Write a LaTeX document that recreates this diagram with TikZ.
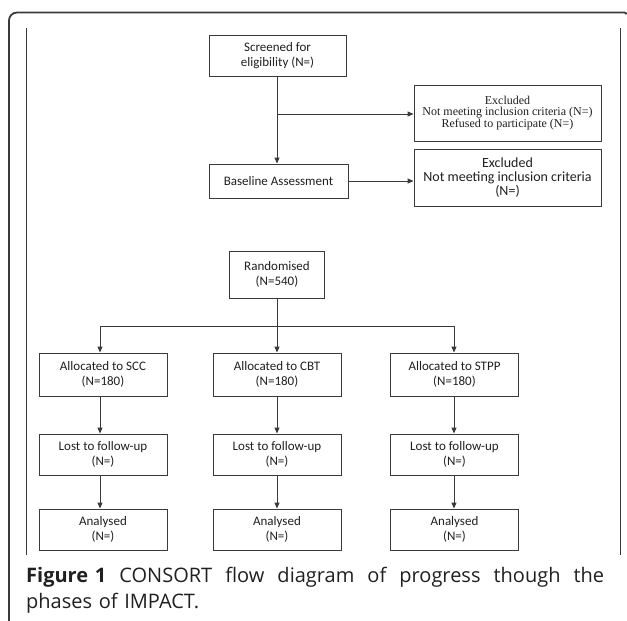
\documentclass[tikz,border=0pt]{standalone}
\usepackage{fontspec}
\setmainfont{Carlito}
\newfontfamily\timesfont{Liberation Serif}
\newfontfamily\capfont{Open Sans}
\usetikzlibrary{arrows.meta,calc}
\definecolor{linecol}{HTML}{3A3A3A}
\definecolor{txtcol}{HTML}{202020}
\newcommand{\capsp}{\hspace{0pt plus 1fil}\ }
\begin{document}
\begin{tikzpicture}[x=1pt,y=-1pt,
  flowbox/.style={draw=linecol,line width=0.9pt,fill=white,inner sep=0pt,align=center,
    font=\fontsize{13}{15}\selectfont,text=txtcol},
  serifbox/.style={flowbox,font=\timesfont\fontsize{12}{11.8}\selectfont},
  flowarrow/.style={draw=linecol,line width=0.9pt,-{Triangle[length=6pt,width=5pt]}},
  flowline/.style={draw=linecol,line width=0.9pt}]
\useasboundingbox (0,0) rectangle (627,621);
% outer frame
\draw[draw=linecol,line width=1.8pt,rounded corners=8pt] (9,621) -- (9,12.5) -- (625,12.5);
\draw[draw=linecol,line width=1.8pt] (625,12.5) -- (626.5,14);
% inner vertical rules
\draw[draw=linecol,line width=0.9pt] (26,28) coordinate (lt) -- (26,555) coordinate (lb);
\draw[draw=linecol,line width=0.9pt] (620,28) coordinate (rt) -- (620,555) coordinate (rb);
% nodes
\node[flowbox,minimum width=137pt,minimum height=41pt] (scr) at (277.5,55.5) {Screened for\\eligibility (N=)};
\node[serifbox,minimum width=187pt,minimum height=56pt] (ex1) at (507.5,113) {Excluded\\Not meeting inclusion criteria (N=)\\Refused to participate (N=)};
\node[flowbox,minimum width=139pt,minimum height=34pt] (base) at (278.5,181) {Baseline Assessment};
\node[flowbox,minimum width=187pt,minimum height=57pt,font=\fontsize{14}{14}\selectfont] (ex2) at (507.5,177.5) {Excluded\\Not meeting inclusion criteria\\(N=)};
\node[flowbox,minimum width=95pt,minimum height=47pt] (rand) at (277,274.5) {Randomised\\(N=540)};
\node[flowbox,minimum width=128pt,minimum height=43pt] (scc) at (103,374.5) {Allocated to SCC\\(N=180)};
\node[flowbox,minimum width=128pt,minimum height=43pt] (cbt) at (277,374.5) {Allocated to CBT\\(N=180)};
\node[flowbox,minimum width=128pt,minimum height=43pt] (stpp) at (454.5,374.5) {Allocated to STPP\\(N=180)};
\node[flowbox,minimum width=128pt,minimum height=41pt] (l1) at (103,454.5) {Lost to follow-up\\(N=)};
\node[flowbox,minimum width=128pt,minimum height=41pt] (l2) at (277,454.5) {Lost to follow-up\\(N=)};
\node[flowbox,minimum width=128pt,minimum height=41pt] (l3) at (454.5,454.5) {Lost to follow-up\\(N=)};
\node[flowbox,minimum width=128pt,minimum height=41pt] (a1) at (103,529.5) {Analysed\\(N=)};
\node[flowbox,minimum width=128pt,minimum height=41pt] (a2) at (277,529.5) {Analysed\\(N=)};
\node[flowbox,minimum width=128pt,minimum height=41pt] (a3) at (454.5,529.5) {Analysed\\(N=)};
% connectors
\coordinate (topx) at (277,76);
\draw[flowarrow] (scr.south -| topx) -- (base.north -| topx);
\coordinate (j1) at (277,114);
\draw[flowarrow] (j1) -- (j1 -| ex1.west);
\draw[flowarrow] (base.east) -- (base.east -| ex2.west);
\coordinate (jl) at (100,326);
\coordinate (jr) at (454,326);
\draw[flowline] (jl) -- (jr);
\draw[flowarrow] (rand.south) -- (cbt.north);
\draw[flowarrow] (jl) -- (jl |- scc.north);
\draw[flowarrow] (jr) -- (jr |- stpp.north);
\draw[flowarrow] (scc.south -| jl) -- (l1.north -| jl);
\draw[flowarrow] (cbt.south) -- (l2.north);
\draw[flowarrow] (stpp.south -| jr) -- (l3.north -| jr);
\draw[flowarrow] (l1.south -| jl) -- (a1.north -| jl);
\draw[flowarrow] (l2.south) -- (a2.north);
\draw[flowarrow] (l3.south -| jr) -- (a3.north -| jr);
% caption
\node[anchor=base west,inner sep=0pt,text width=578pt,align=left,text=txtcol,
  font=\capfont\fontsize{20}{26}\selectfont] (cap) at (26,582)
  {\hbox to 578pt{\textbf{Figure\ 1}\capsp CONSORT\capsp flow\capsp diagram\capsp of\capsp progress\capsp though\capsp the}\\phases of IMPACT.};
\end{tikzpicture}
\end{document}
